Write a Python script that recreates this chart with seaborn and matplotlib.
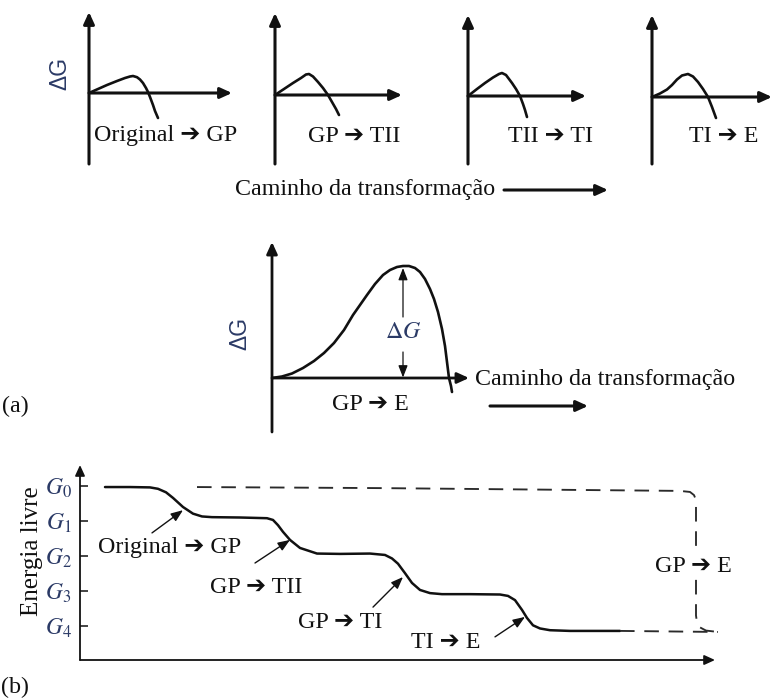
import matplotlib
matplotlib.use("Agg")
import matplotlib.pyplot as plt
import seaborn as sns

# ---------------------------------------------------------------- data
# Small ΔG vs. path sketches (path offset, ΔG), one per step
step_labels = ["Original \u2794 GP", "GP \u2794 TII", "TII \u2794 TI", "TI \u2794 E"]
path_s1 = [0, 9, 18, 28, 36, 41, 44, 48, 51, 54, 57, 59, 61, 64, 66, 69]
dG_s1 = [0, 4, 8, 12, 15, 16.5, 17, 15.8, 13.5, 10, 5, 1, -4, -12, -18, -25]
path_s2 = [0, 9, 18, 26, 31, 34, 38, 43, 48, 53, 57, 61, 64]
dG_s2 = [0, 6, 12, 17, 20.5, 21, 18.5, 13, 7, 0, -7, -14, -20]
path_s3 = [0, 9, 17, 25, 31, 34, 38, 44, 48, 52, 55, 57, 59]
dG_s3 = [0, 7, 13, 18.5, 22, 23, 21, 13, 7, 0, -8, -14, -21]
path_s4 = [0, 8, 15, 20, 25, 30, 36, 41, 46, 51, 56, 60, 64]
dG_s4 = [0, 3.5, 7.5, 12, 17.5, 21.5, 23, 20.5, 15, 8, 0, -10, -21]

# Direct GP -> E barrier
path_a = [0, 10, 20, 31, 42, 52, 62, 72, 81, 88, 95, 103, 111, 118, 125, 131, 137,
          143, 148, 153, 158, 162, 166, 170, 173, 175, 177, 179, 180]
dG_a = [0, 1.5, 4.5, 10, 17, 25, 35, 48, 63, 73, 83, 94, 103, 108, 111, 112, 112,
        110, 106, 99, 89, 79, 66, 49, 32, 16, 0, -8, -14]
barrier_path = 131
barrier_dG = 111

# Free energy along the transformation path (G levels: G0=4 ... G4=0)
g_levels = [4, 3, 2, 1, 0]
g_labels = [r"$G_0$", r"$G_1$", r"$G_2$", r"$G_3$", r"$G_4$"]
path_b = [25, 50, 70, 78, 86, 93, 103, 113, 122, 132, 160, 187, 193, 198, 203, 210, 220,
          237, 260, 290, 305, 312, 318, 325, 332, 340, 350, 362, 390, 420, 428, 435,
          442, 447, 453, 460, 470, 490, 540]
energy_b = [3.97, 3.97, 3.96, 3.92, 3.82, 3.66, 3.40, 3.21, 3.13, 3.11, 3.10, 3.08, 3.03,
            2.88, 2.69, 2.46, 2.23, 2.07, 2.06, 2.07, 2.03, 1.93, 1.78, 1.51, 1.23, 1.03,
            0.94, 0.91, 0.91, 0.90, 0.86, 0.74, 0.46, 0.23, 0.02, -0.07, -0.12, -0.14, -0.14]
path_tail = [540, 638]
energy_tail = [-0.14, -0.17]
path_direct = [117, 300, 600, 610, 614, 616, 616, 617, 620, 626, 638]
energy_direct = [3.97, 3.94, 3.86, 3.83, 3.74, 3.60, 0.30, 0.10, -0.04, -0.13, -0.17]

# step annotations on the staircase: label position, arrow tail, arrow tip
b_labels = ["Original \u2794 GP", "GP \u2794 TII", "GP \u2794 TI", "TI \u2794 E"]
b_label_xy = [(90, 2.23), (176, 1.09), (260, 0.11), (366, -0.46)]
b_arrow_from = [(72, 2.66), (175, 1.80), (293, 0.54), (415, -0.31)]
b_arrow_to = [(103, 3.31), (210, 2.46), (323, 1.40), (445, 0.26)]

# ---------------------------------------------------------------- style
sns.set_style("white")
SERIF = ["Liberation Serif", "DejaVu Sans"]
plt.rcParams["font.family"] = SERIF
plt.rcParams["mathtext.fontset"] = "stix"
plt.rcParams["lines.scale_dashes"] = False

W, H = 773, 699
fig = plt.figure(figsize=(W / 100, H / 100), dpi=100)
fig.patch.set_facecolor("white")

INK = "#111111"
NAVY = "#2b3a66"
FS = 17.3


def px_axes(left, top, right, bottom):
    ax = fig.add_axes([left / W, 1 - bottom / H, (right - left) / W, (bottom - top) / H])
    ax.set_axis_off()
    ax.patch.set_alpha(0)
    return ax


def fig_text(x, y, s, **kw):
    kw.setdefault("ha", "center")
    kw.setdefault("va", "center")
    kw.setdefault("fontsize", FS)
    kw.setdefault("color", INK)
    kw.setdefault("family", SERIF)
    return fig.text(x / W, 1 - y / H, s, **kw)


def arrow(ax, start, end, lw, hl=0.7, hw=0.32, ms=10, color=INK):
    ax.annotate("", xy=end, xytext=start, annotation_clip=False,
                arrowprops=dict(arrowstyle=f"-|>,head_length={hl},head_width={hw}",
                                lw=lw, color=color, shrinkA=0, shrinkB=0,
                                mutation_scale=ms))


def draw_axes_arrows(ax, lw, ms=10):
    x0, x1 = ax.get_xlim()
    y0, y1 = ax.get_ylim()
    arrow(ax, (0, y0), (0, y1), lw, ms=ms)
    arrow(ax, (0, 0), (x1, 0), lw, ms=ms)


# ---------------------------------------------------------------- top row
# (origin x, origin y, right, top, bottom) in figure pixels
small_boxes = [(89, 93, 232, 12, 164), (275, 95, 402, 13, 164),
               (468, 96, 586, 15, 164), (652, 97, 772, 15, 164)]
small_curves = [(path_s1, dG_s1), (path_s2, dG_s2), (path_s3, dG_s3), (path_s4, dG_s4)]
label_pos = [(166, 136), (354, 136), (551, 137), (724, 137)]

for (ox, oy, right, top, bottom), (px, py), lab, (lx, ly) in zip(
        small_boxes, small_curves, step_labels, label_pos):
    ax = px_axes(ox, top, right, bottom)
    ax.set_xlim(0, right - ox)
    ax.set_ylim(-(bottom - oy), oy - top)
    draw_axes_arrows(ax, 2.2)
    sns.lineplot(x=px, y=py, ax=ax, color=INK, lw=1.9, sort=False, estimator=None)
    fig_text(lx, ly, lab)

fig_text(60, 73, "\u0394G", rotation=90, family=["Liberation Sans"], fontsize=16.5, color=NAVY)
fig_text(365, 190, "Caminho da transforma\u00e7\u00e3o")
ax_top = px_axes(0, 0, W, H)
ax_top.set_xlim(0, W)
ax_top.set_ylim(H, 0)
arrow(ax_top, (504, 190), (608, 190), 2.2)

# ---------------------------------------------------------------- panel (a)
ax_a = px_axes(272, 242, 469, 432)
ax_a.set_xlim(0, 197)
ax_a.set_ylim(-54, 136)
draw_axes_arrows(ax_a, 2.0)
sns.lineplot(x=path_a, y=dG_a, ax=ax_a, color=INK, lw=1.9, sort=False, estimator=None)
arrow(ax_a, (barrier_path, 61), (barrier_path, barrier_dG - 1), 0.9, hl=0.9, hw=0.35, ms=8)
arrow(ax_a, (barrier_path, 26), (barrier_path, 0.5), 0.9, hl=0.9, hw=0.35, ms=8)
ax_a.text(barrier_path, 46, r"$\Delta G$", ha="center", va="center", fontsize=FS, color=NAVY)

fig_text(240, 333, "\u0394G", rotation=90, family=["Liberation Sans"], fontsize=16.5, color=NAVY)
fig_text(370, 404, "GP \u2794 E")
fig_text(605, 380, "Caminho da transforma\u00e7\u00e3o")
arrow(ax_top, (490, 406), (588, 406), 2.2)
fig_text(15, 406, "(a)")

# ---------------------------------------------------------------- panel (b)
ax_b = fig.add_axes([80 / W, 1 - 660 / H, 635 / W, 195 / H])
ax_b.patch.set_alpha(0)
for s in ax_b.spines.values():
    s.set_visible(False)
ax_b.set_xlim(0, 635)
ax_b.set_ylim(-0.971, 4.6)
ax_b.set_xticks([])
ax_b.set_yticks(g_levels)
ax_b.set_yticklabels(g_labels)
ax_b.tick_params(axis="y", direction="in", length=6, width=1.1, pad=6,
                 labelsize=17, left=True, colors=INK)
for t in ax_b.get_yticklabels():
    t.set_color(NAVY)
arrow(ax_b, (0, -0.971), (0, 4.6), 1.3, ms=9)
arrow(ax_b, (0, -0.971), (635, -0.971), 1.3, ms=9)

sns.lineplot(x=path_b, y=energy_b, ax=ax_b, color=INK, lw=1.8, sort=False, estimator=None)
for xs, ys in [(path_tail, energy_tail), (path_direct, energy_direct)]:
    sns.lineplot(x=xs, y=ys, ax=ax_b, color="#2a2a2a", lw=1.35, sort=False, estimator=None)
    ax_b.lines[-1].set_dashes([10.5, 7])
    ax_b.lines[-1].set_clip_on(False)

for lab, (tx, ty), a0, a1 in zip(b_labels, b_label_xy, b_arrow_from, b_arrow_to):
    ax_b.text(tx, ty, lab, ha="center", va="center", fontsize=FS, color=INK, family=SERIF)
    arrow(ax_b, a0, a1, 1.0, hl=0.9, hw=0.35, ms=8)

ax_b.text(613, 1.69, "GP \u2794 E", ha="center", va="center", fontsize=FS, color=INK,
          family=SERIF, bbox=dict(facecolor="white", edgecolor="none", pad=1))

ax_b.set_ylabel("Energia livre", fontsize=18, color=INK, va="center", family=SERIF)
ax_b.yaxis.set_label_coords(-0.075, 0.559)
ax_b.set_xlabel("Caminho da transforma\u00e7\u00e3o", fontsize=FS, color=INK, va="center",
                family=SERIF)
ax_b.xaxis.set_label_coords(0.469, -0.113)
fig_text(15, 687, "(b)")

fig.savefig("out.png", dpi=100)
